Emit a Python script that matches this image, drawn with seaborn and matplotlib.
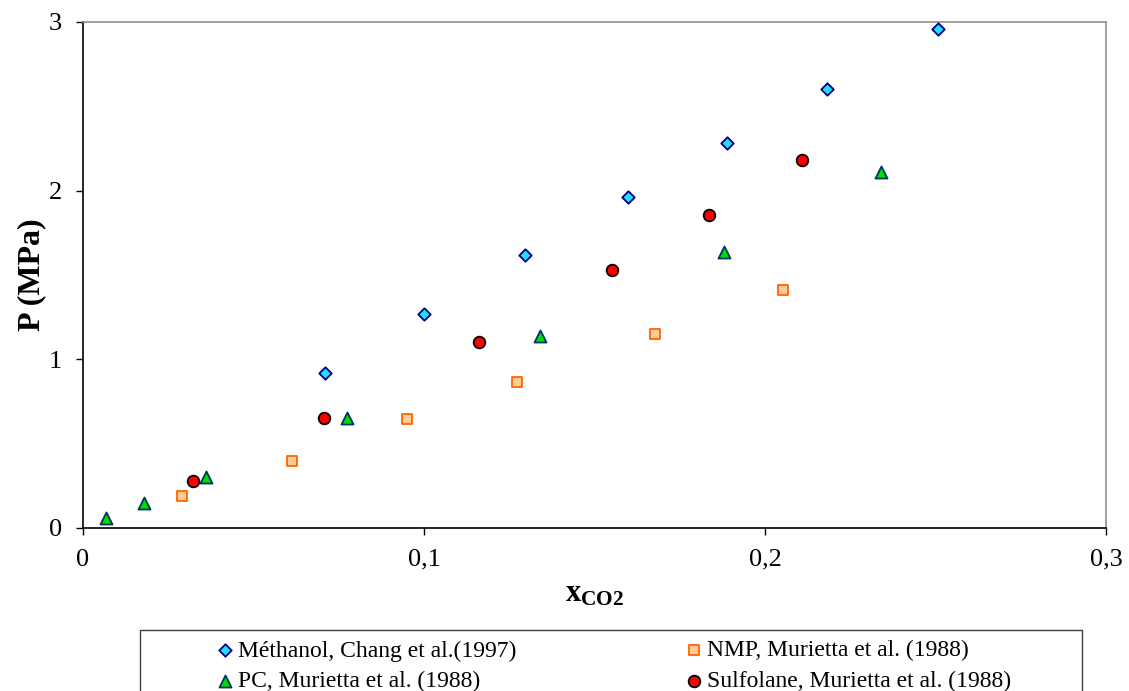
import matplotlib
matplotlib.use("Agg")
import matplotlib.pyplot as plt
import seaborn as sns
import pandas as pd
from matplotlib.patches import Rectangle
from matplotlib.ticker import FixedLocator, FuncFormatter

# ---- data ----
meth_x = [0.071, 0.100, 0.1296, 0.1598, 0.1889, 0.2182, 0.2507]
meth_y = [0.92, 1.27, 1.62, 1.96, 2.28, 2.60, 2.96]
nmp_x = [0.029, 0.0613, 0.095, 0.1273, 0.1677, 0.2053]
nmp_y = [0.19, 0.40, 0.645, 0.865, 1.15, 1.41]
pc_x = [0.0067, 0.018, 0.036, 0.0774, 0.134, 0.188, 0.234]
pc_y = [0.06, 0.15, 0.30, 0.65, 1.14, 1.635, 2.11]
sulf_x = [0.0323, 0.0707, 0.116, 0.155, 0.1836, 0.2108]
sulf_y = [0.28, 0.65, 1.105, 1.53, 1.855, 2.18]

labels = ["Méthanol, Chang et al.(1997)", "NMP, Murietta et al. (1988)",
          "PC, Murietta et al. (1988)", "Sulfolane, Murietta et al. (1988)"]
x_ticks = [0, 0.1, 0.2, 0.3]
y_ticks = [0, 1, 2, 3]

sns.set_style("white")
plt.rcParams["font.family"] = ["Liberation Serif", "DejaVu Serif"]
plt.rcParams["text.color"] = "black"
plt.rcParams["axes.labelcolor"] = "black"
plt.rcParams["xtick.color"] = "black"
plt.rcParams["ytick.color"] = "black"
plt.rcParams["mathtext.fontset"] = "custom"
plt.rcParams["mathtext.rm"] = "Liberation Serif"
plt.rcParams["mathtext.bf"] = "Liberation Serif:bold"

fig = plt.figure(figsize=(11.29, 6.91), dpi=100)
ax = fig.add_axes([83/1129, 1-528/691, (1106-83)/1129, (528-22)/691])

styles = [
    (meth_x, meth_y, "D", 40, "#22DDFF", "#000080", labels[0]),
    (nmp_x, nmp_y, "s", 62, "#FFCC99", "#FF6600", labels[1]),
    (pc_x, pc_y, "^", 75, "#00DD00", "#003366", labels[2]),
    (sulf_x, sulf_y, "o", 70, "#FF0000", "#000000", labels[3]),
]
for xs, ys, m, s, fc, ec, lab in styles:
    df = pd.DataFrame({"x": xs, "y": ys})
    sns.scatterplot(data=df, x="x", y="y", marker=m, s=s, color=fc,
                    edgecolor=ec, linewidth=1.3, ax=ax, label=lab,
                    zorder=3, clip_on=False)

ax.set_xlim(0, 0.3)
ax.set_ylim(0, 3)
ax.xaxis.set_major_locator(FixedLocator(x_ticks))
ax.yaxis.set_major_locator(FixedLocator(y_ticks))
fmt = FuncFormatter(lambda v, p: ("%g" % round(v, 3)).replace(".", ","))
ax.xaxis.set_major_formatter(fmt)
ax.yaxis.set_major_formatter(fmt)
ax.tick_params(axis="both", which="major", direction="out", length=5,
               width=1, color="black", labelsize=19, labelcolor="black",
               bottom=True, left=True, top=False, right=False)
ax.tick_params(axis="x", pad=10)
ax.tick_params(axis="y", pad=10)
for sp in ["left", "bottom"]:
    ax.spines[sp].set_color("black")
    ax.spines[sp].set_linewidth(1.2)
for sp in ["top", "right"]:
    ax.spines[sp].set_color("#909090")
    ax.spines[sp].set_linewidth(1.2)

ax.set_xlabel(r"$\mathbf{x_{CO2}}$", fontsize=22, labelpad=6)
ax.set_ylabel("P (MPa)", fontsize=23, fontweight="bold", labelpad=2)

h, l = ax.get_legend_handles_labels()
ax.get_legend().remove()
order = [0, 2, 1, 3]
leg = fig.legend([h[i] for i in order], [l[i] for i in order], ncol=2,
                 loc="upper left", bbox_to_anchor=(213/1129, 1-640/691),
                 frameon=False, fontsize=17, handletextpad=0.05,
                 columnspacing=7.05, labelspacing=0.38, handlelength=1.0,
                 borderpad=0, borderaxespad=0)
fig.patches.append(Rectangle((140/1129, -0.05), (1082-140)/1129, 1-630/691+0.05,
                             transform=fig.transFigure, fill=False,
                             edgecolor="#404040", linewidth=1.0))

fig.savefig("out.png", dpi=100)
